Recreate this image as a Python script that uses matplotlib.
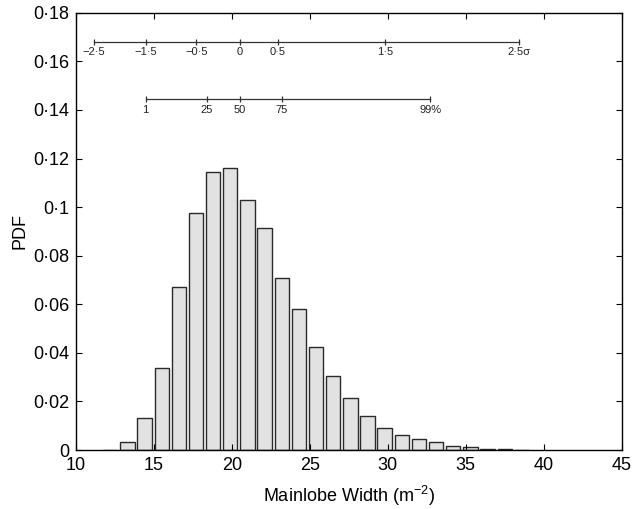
import matplotlib
matplotlib.use('Agg')
import matplotlib.pyplot as plt
import numpy as np

plt.rcParams['font.family'] = ['Liberation Sans', 'DejaVu Sans']
plt.rcParams['mathtext.fontset'] = 'custom'
plt.rcParams['mathtext.rm'] = 'Liberation Sans'
plt.rcParams['mathtext.it'] = 'Liberation Sans:italic'

# histogram: bin centres (first bin at 12.2, step 1.1) and pdf heights
bin_start = 12.2
bin_step = 1.1
pdf = [0.0002, 0.0032, 0.0130, 0.0339, 0.0671, 0.0976, 0.1143, 0.1160,
       0.1028, 0.0914, 0.0709, 0.0580, 0.0424, 0.0306, 0.0213, 0.0140,
       0.0092, 0.0061, 0.0045, 0.0032, 0.0018, 0.0011, 0.0004, 0.0004,
       0.0002]

# sigma scale drawn above the histogram
sigma_x = [11.16, 14.47, 17.73, 20.53, 22.93, 29.82, 38.40]
sigma_labels = ['\u22122\u00b75', '\u22121\u00b75', '\u22120\u00b75', '0',
                '0\u00b75', '1\u00b75', '2\u00b75\u03c3']
sigma_y = 0.1681

# percentile scale
pct_x = [14.47, 18.39, 20.53, 23.21, 32.74]
pct_labels = ['1', '25', '50', '75', '99%']
pct_y = 0.1444

yticks = [0, 0.02, 0.04, 0.06, 0.08, 0.1, 0.12, 0.14, 0.16, 0.18]
ytick_labels = ['0', '0\u00b702', '0\u00b704', '0\u00b706', '0\u00b708',
                '0\u00b71', '0\u00b712', '0\u00b714', '0\u00b716', '0\u00b718']
xticks = [10, 15, 20, 25, 30, 35, 40, 45]

fig = plt.figure(figsize=(6.33, 5.09), dpi=100)
ax = fig.add_axes([0.120, 0.1159, 0.862, 0.859])

centers = bin_start + bin_step * np.arange(len(pdf))
ax.bar(centers, pdf, width=0.92, color='#e2e2e2', edgecolor='#2a2a2a',
       linewidth=1.0)

# number lines
for xs, labs, yy in [(sigma_x, sigma_labels, sigma_y), (pct_x, pct_labels, pct_y)]:
    ax.plot([xs[0], xs[-1]], [yy, yy], color='#333333', lw=0.9)
    ax.plot(xs, [yy] * len(xs), ls='none', marker='|', ms=4, mew=0.9,
            color='#333333')
    for x, lab in zip(xs, labs):
        ax.annotate(lab, (x, yy), xytext=(0, -4), textcoords='offset points',
                    ha='center', va='top', fontsize=8, color='#222222')

ax.set_xlim(10, 45)
ax.set_ylim(0, 0.18)
ax.set_xticks(xticks)
ax.set_yticks(yticks)
ax.set_yticklabels(ytick_labels)
ax.tick_params(direction='in', top=True, right=True, length=4, width=0.8,
               labelsize=13, pad=5)
for s in ax.spines.values():
    s.set_linewidth(1.0)

ax.set_xlabel('Mainlobe Width (m$^{\u22122}$)', fontsize=13, labelpad=7)
ax.set_ylabel('PDF', fontsize=13, labelpad=3)

fig.savefig('out.png', dpi=100)
